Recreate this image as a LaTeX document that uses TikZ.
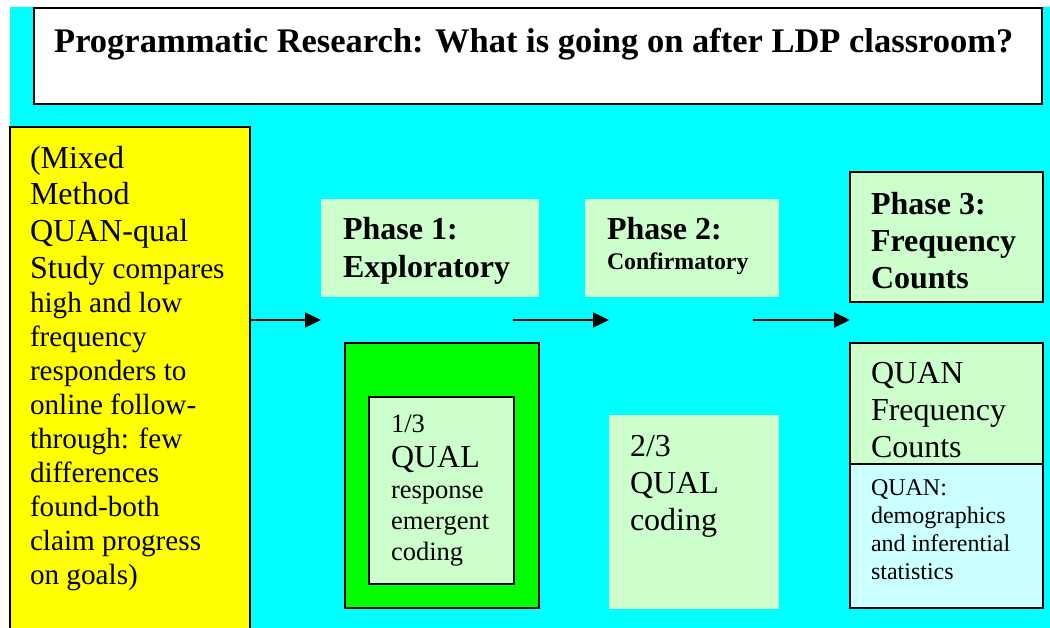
\documentclass[tikz,border=0pt]{standalone}
\usepackage{fontspec}
\setmainfont{Liberation Serif}
\usetikzlibrary{arrows.meta}

\definecolor{bgcyan}{HTML}{00FFFF}
\definecolor{noteyellow}{HTML}{FFFF00}
\definecolor{palegreen}{HTML}{CCFFCC}
\definecolor{brightgreen}{HTML}{00FF00}
\definecolor{palecyan}{HTML}{CCFFFF}

% fixed first-line height so the top anchor sits 1em above the first baseline
\newcommand\firstline{\rule{0pt}{1em}}
\newcommand\fs[2]{\fontsize{#1}{#2}\selectfont}

\tikzset{
  panel/.style={anchor=north west, inner sep=0pt, outer sep=0pt, line width=2pt},
  txt/.style={anchor=north west, inner sep=0pt, outer sep=0pt, align=left},
  flow/.style={line width=2pt, -{Triangle[length=16pt,width=15pt]}},
}

\begin{document}
\begin{tikzpicture}[x=1pt, y=-1pt]
\useasboundingbox (0,0) rectangle (1050,628);
\fill[white] (0,0) rectangle (1050,628);
\fill[bgcyan] (10,7.5) rectangle (1050,628);

% title
\node[panel, draw, fill=white, minimum width=1008pt, minimum height=96pt] (titlebox) at (34,8) {};
\node[anchor=base west, inner sep=0pt, font=\fs{34.5}{40}\bfseries] (title) at (54,52.5)
  {Programmatic Research: What is going on after LDP classroom?};

% study description
\path[draw, line width=2pt, fill=noteyellow] (10,640) -- (10,127) -- (250,127) -- (250,640);
\node[panel, minimum width=240pt, minimum height=501pt] (study) at (10,127) {};
\node[txt, font=\fs{32}{34}] (studytext) at (30,168-32)
  {\firstline(Mixed\\[2.7pt]
   Method\\[2.7pt]
   QUAN-qual\\[2.7pt]
   Study {\fs{29.2}{34}compares}\\
   {\fs{29.2}{34}high and low}\\
   {\fs{29.2}{34}frequency}\\
   {\fs{29.2}{34}responders to}\\
   {\fs{29.2}{34}online follow-}\\
   {\fs{29.2}{34}through: few}\\
   {\fs{29.2}{34}differences}\\
   {\fs{29.2}{34}found-both}\\
   {\fs{29.2}{34}claim progress}\\
   {\fs{29.2}{34}on goals)}};

% phase headers
\node[panel, fill=palegreen, minimum width=218pt, minimum height=98pt] (phase1) at (321,199) {};
\node[txt, font=\fs{32}{38}\bfseries] (phase1text) at (343,240-32)
  {\firstline Phase 1:\\Exploratory};

\node[panel, fill=palegreen, minimum width=194pt, minimum height=98pt] (phase2) at (585,199) {};
\node[txt, font=\fs{32}{30}\bfseries] (phase2text) at (607,240-32)
  {\firstline Phase 2:\\{\fs{23.8}{30}Confirmatory}};

\node[panel, draw, fill=palegreen, minimum width=193pt, minimum height=130pt] (phase3) at (850,172) {};
\node[txt, font=\fs{32}{37}\bfseries] (phase3text) at (871,215-32)
  {\firstline Phase 3:\\Frequency\\Counts};

% phase 1 detail
\node[panel, draw, fill=brightgreen, minimum width=194pt, minimum height=265pt] (qualouter) at (345,343) {};
\node[panel, draw, fill=palegreen, minimum width=145pt, minimum height=187pt] (qualinner) at (369,397) {};
\node[txt, font=\fs{26.5}{31}] (qualtext) at (391,432-26.5)
  {\firstline 1/3\\[4pt]
   {\fs{32}{35}QUAL}\\
   response\\
   emergent\\
   coding};

% phase 2 detail
\node[panel, fill=palegreen, minimum width=170pt, minimum height=194pt] (qualtwo) at (609,415) {};
\node[txt, font=\fs{32}{37}] (qualtwotext) at (630,456-32)
  {\firstline 2/3\\QUAL\\coding};

% phase 3 detail
\node[panel, fill=palecyan, minimum width=193pt, minimum height=265pt] (quan) at (850,343) {};
\fill[palegreen] (quan.north west) rectangle (1043,464);
\draw[line width=2pt] (850,464) -- (1043,464);
\draw[line width=2pt] (quan.north west) rectangle (quan.south east);
\node[txt, font=\fs{32}{37}] (quantext) at (871,383-32)
  {\firstline QUAN\\Frequency\\Counts};
\node[txt, font=\fs{24}{28}] (stattext) at (871,495-24)
  {\firstline QUAN:\\demographics\\and inferential\\statistics};

% flow arrows
\coordinate (a1end) at (321,320);
\coordinate (a2start) at (513,320);
\coordinate (a2end) at (qualtwo.west |- a2start);
\coordinate (a3start) at (753,320);
\coordinate (a3end) at (quan.west |- a3start);
\draw[flow] (study.east |- a1end) -- (a1end);
\draw[flow] (a2start) -- (a2end);
\draw[flow] (a3start) -- (a3end);
\end{tikzpicture}
\end{document}
